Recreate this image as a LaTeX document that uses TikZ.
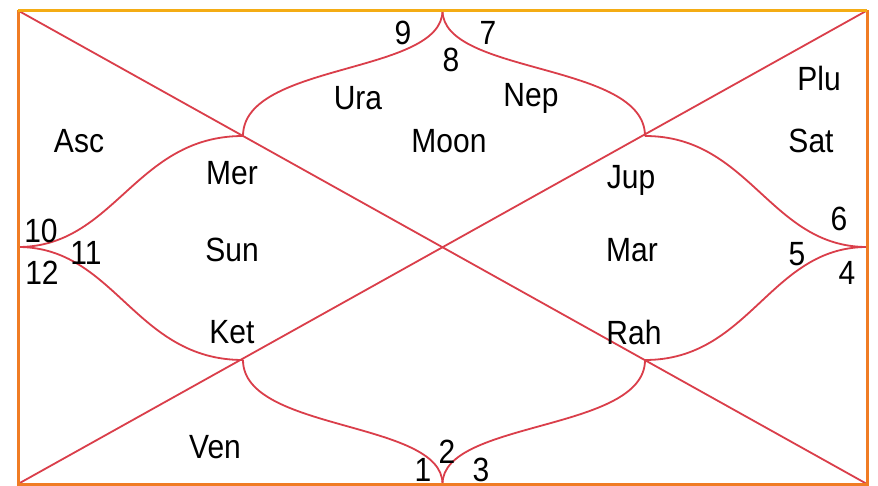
\documentclass[tikz,border=0pt]{standalone}
\usepackage{fontspec}
\usepackage{graphicx}
\setmainfont{Liberation Sans}
\definecolor{chartred}{RGB}{218,62,74}
\definecolor{bordgold}{RGB}{244,172,20}
\definecolor{bordorange}{RGB}{240,124,36}
\newcommand{\tx}[1]{\scalebox{1}[1.12]{#1}}
\begin{document}
\begin{tikzpicture}[x=1pt,y=-1pt,
  chartline/.style={draw=chartred,line width=1.8pt},
  lbl/.style={font=\fontsize{30}{30}\selectfont,inner sep=0pt,text=black}]
\useasboundingbox (0,0) rectangle (878,486);
\fill[white] (0,0) rectangle (878,486);
% corner and cusp coordinates
\coordinate (tl) at (18,10.5);
\coordinate (tr) at (867,10.5);
\coordinate (bl) at (18,484);
\coordinate (br) at (867,484);
\coordinate (top) at (442.5,10.5);
\coordinate (bot) at (442.5,484);
\coordinate (lft) at (18,247);
\coordinate (rgt) at (867,247);
\coordinate (ul) at (243,136);
\coordinate (ur) at (645,136);
\coordinate (ll) at (243,360);
\coordinate (lr) at (645,360);
% diagonals
\draw[chartline] (tl) -- (br);
\draw[chartline] (bl) -- (tr);
% curves
\draw[chartline] (top) .. controls (442.5,75) and (243,62) .. (ul);
\draw[chartline] (top) .. controls (442.5,75) and (645,62) .. (ur);
\draw[chartline] (bot) .. controls (442.5,420) and (243,432) .. (ll);
\draw[chartline] (bot) .. controls (442.5,420) and (645,432) .. (lr);
\draw[chartline] (lft) .. controls (115,247) and (135,136) .. (ul);
\draw[chartline] (lft) .. controls (115,247) and (135,360) .. (ll);
\draw[chartline] (rgt) .. controls (770,247) and (750,136) .. (ur);
\draw[chartline] (rgt) .. controls (770,247) and (750,360) .. (lr);
% border
\draw[bordorange,line width=3pt] (tl) -- (bl) -- (br) -- (tr);
\draw[bordgold,line width=3pt] (tl) -- (tr);
% labels
\node[lbl] (n9) at (403,33) {\tx{9}};
\node[lbl] (n8) at (451,60) {\tx{8}};
\node[lbl] (n7) at (488,33) {\tx{7}};
\node[lbl] (ura) at (358,98) {\tx{Ura}};
\node[lbl] (nep) at (531,98) {\tx{Nep}};
\node[lbl] (moon) at (449,141) {\tx{Moon}};
\node[lbl] (asc) at (79,141) {\tx{Asc}};
\node[lbl] (mer) at (232,173) {\tx{Mer}};
\node[lbl] (sun) at (232,250) {\tx{Sun}};
\node[lbl] (ket) at (232,332) {\tx{Ket}};
\node[lbl] (n10) at (41,231) {\tx{10}};
\node[lbl] (n11) at (86,253) {\tx{11}};
\node[lbl] (n12) at (42,273) {\tx{12}};
\node[lbl] (plu) at (819,78) {\tx{Plu}};
\node[lbl] (sat) at (811,141) {\tx{Sat}};
\node[lbl] (jup) at (631,180) {\tx{Jup}};
\node[lbl] (mar) at (632,250) {\tx{Mar}};
\node[lbl] (rah) at (634,332) {\tx{Rah}};
\node[lbl] (n6) at (839,219) {\tx{6}};
\node[lbl] (n5) at (797,254) {\tx{5}};
\node[lbl] (n4) at (847,273) {\tx{4}};
\node[lbl] (ven) at (215,447) {\tx{Ven}};
\node[lbl] (n2) at (447,452) {\tx{2}};
\node[lbl] (n1) at (423,470) {\tx{1}};
\node[lbl] (n3) at (481,470) {\tx{3}};
\end{tikzpicture}
\end{document}
